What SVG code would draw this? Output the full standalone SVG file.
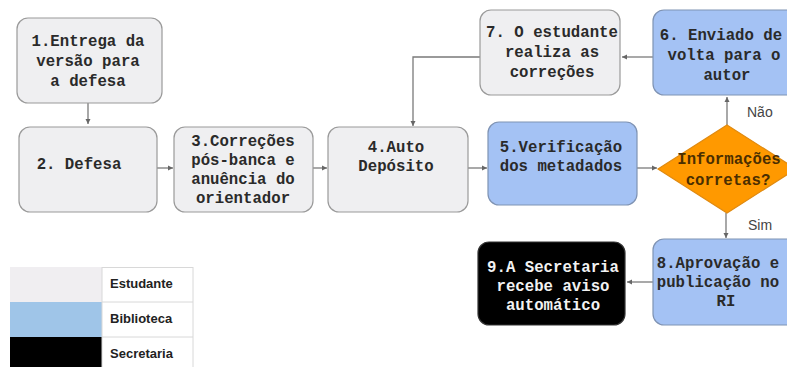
<svg xmlns="http://www.w3.org/2000/svg" width="787" height="367" viewBox="0 0 787 367">
<defs>
<marker id="ah" markerWidth="6" markerHeight="6" refX="5" refY="3" orient="auto" markerUnits="userSpaceOnUse">
<path d="M0,0.5 L5,3 L0,5.5 Z" fill="#666"/>
</marker>
<style>
.st{fill:#efeff1;stroke:#9a9a9a;stroke-width:1.2}
.bi{fill:#a4c2f4;stroke:#7f93b3;stroke-width:1.2}
.se{fill:#000;stroke:#333;stroke-width:1.2}
.dm{fill:#ff9900;stroke:#e08a10;stroke-width:1.2}
.t{font-family:"Liberation Mono","Courier New",monospace;font-weight:bold;font-size:15.7px;text-anchor:middle;fill:#2a2a2a}
.tw{fill:#f2f2f2}
.td{fill:#4a2e00}
.lb{font-family:"Liberation Sans",Arial,sans-serif;font-size:14px;fill:#444}
.lg{font-family:"Liberation Sans",Arial,sans-serif;font-size:13px;font-weight:bold;fill:#222}
.c{fill:none;stroke:#7a7a7a;stroke-width:1.3;marker-end:url(#ah)}
.grid{fill:none;stroke:#d8d8d8;stroke-width:1}
</style>
</defs>

<g id="connectors">
<path class="c" d="M88,103 V124"/>
<path class="c" d="M157,168 H173"/>
<path class="c" d="M313,168 H327"/>
<path class="c" d="M468,168 H487"/>
<path class="c" d="M637,168 H657"/>
<path class="c" d="M727,125 V97"/>
<path class="c" d="M653,57 H622"/>
<path class="c" d="M480,57 H413 V126"/>
<path class="c" d="M726,213 V238"/>
<path class="c" d="M653,282 H627"/>
<text class="lb" x="747" y="117">Não</text>
<text class="lb" x="748" y="230">Sim</text>
</g>

<g id="n1">
<rect class="st" x="17" y="18" width="145" height="85" rx="11"/>
<text class="t" x="88" y="46">1.Entrega da</text>
<text class="t" x="88" y="66">versão para</text>
<text class="t" x="88" y="86">a defesa</text>
</g>

<g id="n2">
<rect class="st" x="19" y="127" width="138" height="85" rx="11"/>
<text class="t" x="79" y="169">2. Defesa</text>
</g>

<g id="n3">
<rect class="st" x="174" y="127" width="139" height="85" rx="11"/>
<text class="t" x="243" y="146">3.Correções</text>
<text class="t" x="243" y="165">pós-banca e</text>
<text class="t" x="243" y="184">anuência do</text>
<text class="t" x="243" y="203">orientador</text>
</g>

<g id="n4">
<rect class="st" x="328" y="127" width="140" height="85" rx="11"/>
<text class="t" x="396" y="152">4.Auto</text>
<text class="t" x="396" y="171">Depósito</text>
</g>

<g id="n5">
<rect class="bi" x="488" y="122" width="149" height="83" rx="11"/>
<text class="t" x="561" y="152">5.Verificação</text>
<text class="t" x="561" y="171">dos metadados</text>
</g>

<g id="decisao">
<path class="dm" d="M727,125 L796,169 L727,213 L658,169 Z"/>
<text class="t td" x="729" y="164">Informações</text>
<text class="t td" x="728" y="185">corretas?</text>
</g>

<g id="n6">
<rect class="bi" x="653" y="10" width="160" height="85" rx="11"/>
<text class="t" x="721" y="40">6. Enviado de</text>
<text class="t" x="724" y="60">volta para o</text>
<text class="t" x="727" y="80">autor</text>
</g>

<g id="n7">
<rect class="st" x="480" y="10" width="140" height="85" rx="11"/>
<text class="t" x="552" y="37">7. O estudante</text>
<text class="t" x="552" y="57">realiza as</text>
<text class="t" x="552" y="77">correções</text>
</g>

<g id="n8">
<rect class="bi" x="653" y="239" width="160" height="86" rx="11"/>
<text class="t" x="718" y="268">8.Aprovação e</text>
<text class="t" x="718" y="287">publicação no</text>
<text class="t" x="726" y="306">RI</text>
</g>

<g id="n9">
<rect class="se" x="478" y="242" width="147" height="83" rx="11"/>
<text class="t tw" x="553" y="272">9.A Secretaria</text>
<text class="t tw" x="553" y="291">recebe aviso</text>
<text class="t tw" x="553" y="310">automático</text>
</g>

<g id="legenda">
<rect x="10" y="267" width="92" height="35" fill="#f0eef1"/>
<rect x="10" y="302" width="92" height="35" fill="#9fc5e8"/>
<rect x="10" y="337" width="92" height="35" fill="#000"/>
<rect x="102" y="267" width="91" height="105" fill="#fff"/>
<path class="grid" d="M102,267.5 H193 M102,302 H193 M102,337 H193 M102,267 V372 M193,267 V372"/>
<text class="lg" x="110" y="288">Estudante</text>
<text class="lg" x="110" y="323">Biblioteca</text>
<text class="lg" x="110" y="358">Secretaria</text>
</g>
</svg>
